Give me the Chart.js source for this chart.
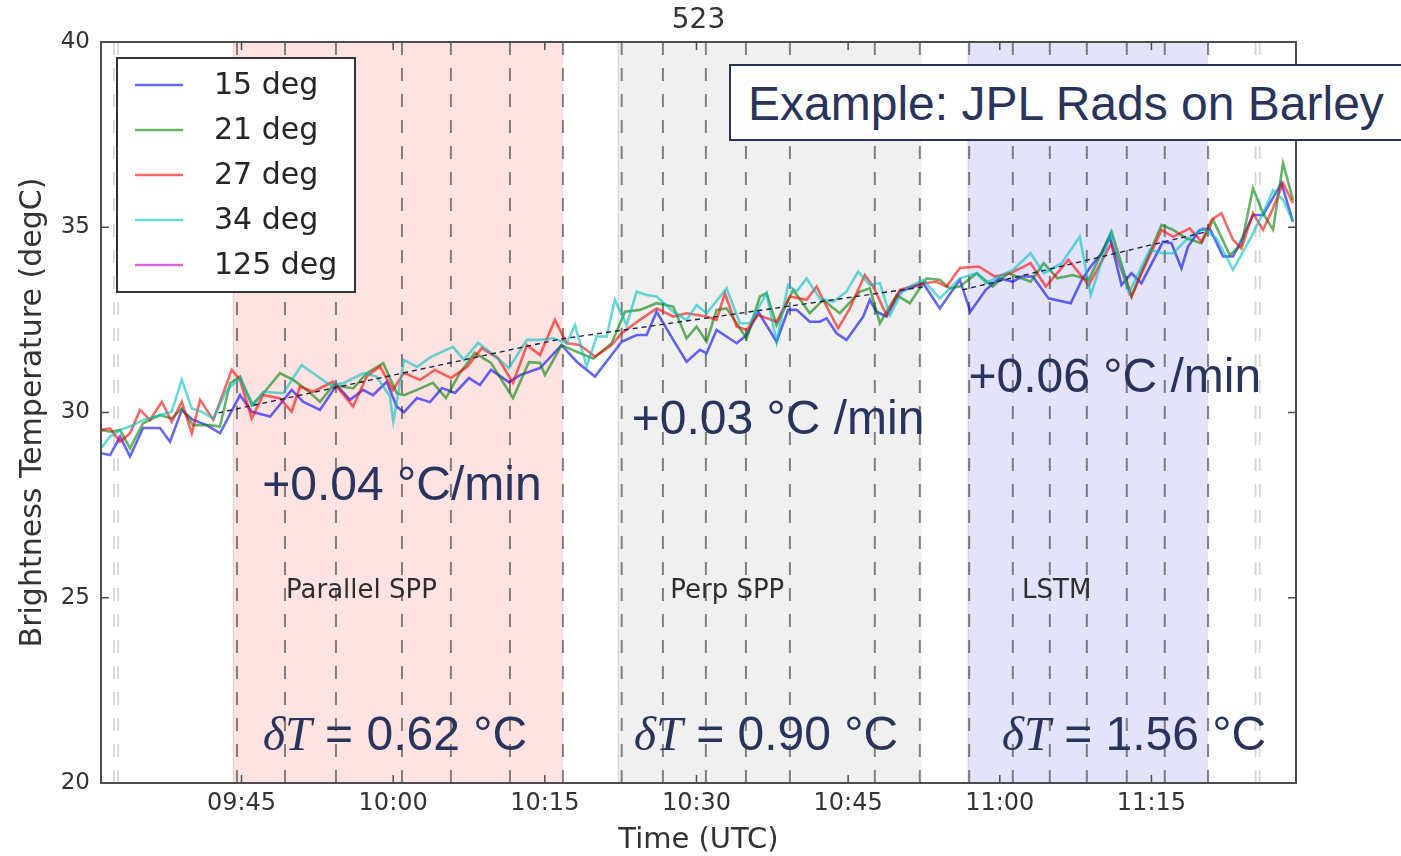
<!DOCTYPE html>
<html>
<head>
<meta charset="utf-8">
<title>523</title>
<style>
  html, body { margin: 0; padding: 0; background: #fff; overflow: hidden; }
  #wrap { position: relative; width: 1401px; height: 856px; overflow: hidden; }
  #chart { position: absolute; left: 0; top: 0; }
  #note {
    position: absolute; left: 729px; top: 64px; width: 700px; height: 77px;
    box-sizing: border-box; border: 2px solid #29345c; background: #fff;
    color: #29345c; font: 48px "Liberation Sans", Arial, sans-serif;
    line-height: 75px; padding-left: 17px; white-space: nowrap;
  }
</style>
</head>
<body>
<div id="wrap">
  <canvas id="chart" width="1401" height="856"></canvas>
  <div id="note">Example: JPL Rads on Barley</div>
</div>
<script src="https://cdn.jsdelivr.net/npm/chart.js"></script>
<script>
// time axis is minutes after 09:00 UTC
const seriesLabels = ['15 deg', '21 deg', '27 deg', '34 deg', '125 deg'];

const t15 = [31.1, 32.0, 32.99, 33.97, 35.26, 36.94, 37.93, 39.09, 40.2, 41.56, 42.87, 44.85, 46.01, 47.83, 49.96, 51.08, 52.76, 54.41, 55.73, 57.01, 58.0, 59.36, 60.35, 61.07, 62.35, 63.64, 64.83, 66.11, 67.5, 68.58, 69.67, 71.45, 72.54, 74.52, 76.66, 78.15, 79.96, 82.6, 84.08, 85.07, 86.06, 87.7, 89.02, 90.34, 91.0, 91.99, 93.97, 94.96, 96.1, 97.92, 99.07, 99.9, 101.21, 102.2, 102.87, 103.85, 104.84, 106.49, 107.15, 107.81, 108.8, 110.11, 112.42, 114.07, 116.05, 117.09, 118.62, 119.95, 121.29, 122.18, 123.27, 124.82, 127.02, 128.11, 129.0, 130.09, 130.88, 132.04, 133.03, 134.01, 136.15, 136.98, 137.97, 138.62, 139.78, 140.77, 142.08, 143.07, 144.06, 145.05, 146.04, 147.86, 149.0];
const v15 = [28.9, 28.85, 29.35, 28.81, 29.58, 29.58, 29.21, 30.07, 29.8, 29.66, 29.44, 30.47, 30.02, 29.89, 30.61, 30.29, 30.07, 30.74, 30.34, 30.61, 30.47, 30.83, 30.16, 30.01, 30.39, 30.28, 30.66, 30.53, 30.93, 30.74, 31.15, 30.82, 31.01, 31.2, 31.82, 31.37, 30.97, 31.91, 32.09, 32.09, 32.72, 31.96, 31.37, 31.69, 31.6, 32.23, 31.87, 32.09, 32.72, 31.91, 32.77, 32.77, 32.45, 32.45, 32.54, 32.14, 31.96, 32.59, 33.04, 32.72, 32.59, 33.26, 33.49, 32.81, 33.58, 32.72, 33.31, 33.62, 33.53, 33.67, 33.67, 33.08, 32.95, 33.58, 33.94, 34.3, 34.74, 33.44, 33.76, 33.49, 34.61, 34.57, 33.89, 34.48, 34.93, 34.97, 34.21, 34.21, 34.74, 35.33, 35.33, 36.19, 35.15];

const t21 = [31.1, 32.0, 32.99, 33.97, 35.26, 36.94, 38.1, 39.09, 40.2, 41.89, 42.87, 43.86, 44.85, 46.01, 47.16, 48.81, 50.12, 51.45, 52.76, 54.08, 56.06, 57.38, 59.02, 60.35, 61.07, 62.35, 63.94, 65.22, 66.6, 68.08, 69.67, 71.85, 73.43, 74.52, 75.01, 76.66, 78.15, 79.79, 81.61, 82.92, 84.4, 86.06, 87.7, 89.02, 90.01, 91.0, 91.99, 92.98, 94.96, 96.27, 96.93, 97.92, 99.56, 101.21, 102.53, 104.18, 106.16, 107.15, 108.14, 109.79, 111.1, 112.75, 114.07, 115.06, 116.05, 117.73, 119.29, 120.84, 123.05, 124.35, 125.7, 127.22, 128.8, 131.05, 133.03, 134.17, 136.0, 137.14, 138.46, 139.95, 141.1, 142.75, 143.9, 145.05, 146.04, 147.03, 148.02, 149.0];
const v21 = [29.53, 29.48, 29.53, 29.03, 29.71, 29.93, 29.84, 30.11, 29.66, 29.66, 29.62, 30.79, 30.97, 30.2, 30.52, 31.06, 30.88, 30.61, 30.29, 30.74, 30.65, 31.06, 31.33, 30.52, 30.47, 30.61, 30.8, 30.39, 31.07, 31.61, 31.34, 30.39, 31.36, 31.34, 31.01, 31.82, 31.64, 31.46, 31.87, 32.72, 32.77, 32.95, 32.86, 32.0, 32.32, 31.91, 32.77, 32.81, 32.0, 33.13, 33.22, 32.36, 33.31, 32.68, 33.04, 32.68, 33.26, 33.35, 32.41, 33.17, 32.95, 33.62, 33.58, 33.35, 33.4, 33.76, 33.4, 33.76, 33.53, 34.03, 33.62, 33.71, 33.58, 34.88, 33.13, 33.89, 35.06, 34.93, 34.7, 34.57, 35.2, 34.25, 34.52, 36.05, 35.38, 34.93, 36.73, 35.74];

const t27 = [31.1, 32.0, 32.99, 33.97, 34.96, 35.95, 37.11, 38.1, 39.09, 40.08, 40.9, 42.21, 44.03, 44.85, 46.01, 47.13, 48.81, 49.96, 50.78, 52.07, 54.05, 56.03, 57.38, 58.7, 59.98, 61.07, 62.65, 64.13, 65.72, 67.3, 68.78, 70.36, 71.85, 73.23, 74.52, 76.0, 77.16, 78.47, 79.96, 81.61, 82.6, 84.4, 86.06, 87.7, 89.02, 91.0, 91.99, 92.81, 93.97, 94.96, 96.1, 97.92, 99.24, 100.89, 101.88, 102.87, 104.01, 105.17, 106.65, 107.47, 108.8, 110.11, 112.42, 113.74, 114.73, 116.05, 117.93, 119.51, 121.06, 123.05, 124.55, 126.8, 128.8, 131.05, 133.03, 134.17, 136.0, 137.14, 138.79, 139.95, 140.94, 141.92, 143.07, 143.9, 145.05, 146.04, 147.03, 148.02, 149.0];
const v27 = [29.53, 29.57, 29.21, 29.44, 30.07, 29.8, 30.29, 29.75, 30.29, 29.44, 30.34, 29.8, 31.15, 30.88, 29.84, 30.47, 30.38, 30.02, 30.7, 30.56, 30.83, 30.16, 30.97, 31.24, 30.61, 31.07, 30.88, 31.15, 30.93, 31.23, 31.74, 31.47, 30.8, 31.82, 31.55, 32.5, 31.87, 31.82, 31.51, 31.82, 32.14, 32.5, 32.81, 32.59, 32.68, 32.59, 32.5, 33.22, 32.32, 32.23, 32.63, 32.45, 33.13, 33.04, 33.4, 32.86, 32.27, 32.81, 33.71, 33.4, 32.63, 33.31, 33.49, 33.53, 33.4, 33.9, 33.94, 33.67, 33.76, 34.03, 33.4, 34.12, 33.44, 34.57, 33.13, 33.85, 34.93, 34.74, 34.97, 34.61, 35.2, 35.38, 34.66, 34.43, 35.38, 34.93, 35.51, 36.19, 35.65];

const t34 = [31.1, 32.0, 32.99, 34.28, 35.26, 36.94, 38.1, 39.09, 40.08, 41.06, 42.21, 43.54, 44.85, 46.17, 47.16, 49.13, 50.95, 52.1, 53.75, 55.07, 57.04, 58.37, 59.68, 60.01, 61.07, 62.35, 63.74, 65.91, 67.0, 68.39, 69.67, 71.45, 73.23, 74.52, 75.83, 77.16, 77.98, 79.13, 80.12, 81.11, 81.93, 83.09, 84.08, 85.07, 86.06, 87.7, 89.02, 90.01, 91.0, 92.98, 94.29, 95.28, 96.93, 97.92, 99.07, 99.9, 100.89, 102.2, 103.52, 104.84, 105.99, 107.15, 108.14, 109.13, 110.44, 112.42, 114.07, 116.05, 117.73, 118.62, 119.95, 121.29, 123.05, 124.35, 126.13, 127.91, 129.0, 130.98, 132.76, 134.84, 136.15, 137.14, 138.46, 140.1, 141.43, 143.07, 144.72, 146.04, 147.03, 148.02, 149.0];
const v34 = [29.03, 29.35, 29.53, 29.66, 29.8, 29.93, 30.02, 30.88, 30.11, 30.02, 29.84, 30.61, 30.92, 30.2, 30.56, 30.52, 31.28, 31.06, 30.74, 30.79, 31.06, 30.97, 30.43, 29.75, 31.42, 31.23, 31.5, 31.77, 31.42, 31.88, 31.61, 31.2, 31.96, 31.96, 32.0, 31.87, 32.36, 31.24, 32.05, 32.05, 33.04, 32.36, 33.26, 33.17, 33.13, 32.72, 32.5, 32.9, 32.68, 33.35, 32.41, 32.41, 33.22, 31.91, 33.44, 33.26, 33.62, 33.08, 32.99, 33.26, 33.8, 33.44, 33.49, 32.63, 33.31, 33.58, 33.08, 33.62, 33.76, 33.49, 33.67, 33.85, 34.3, 33.76, 34.03, 34.74, 33.17, 34.84, 33.22, 34.39, 34.3, 34.3, 34.66, 34.97, 34.7, 33.85, 34.66, 35.38, 36.0, 35.74, 35.15];

const t125 = [];
const v125 = [];

// fitted trend (three pieces, gap between the 2nd and 3rd)
const trendTimes = [42.7, 76.5, 112.4, 114.4, 116.3, 140.3];
const trendValues = [29.99, 31.98, 33.39, null, 33.31, 34.87];

const xTickValues = [45, 60, 75, 90, 105, 120, 135];
const xTickLabels = ['09:45', '10:00', '10:15', '10:30', '10:45', '11:00', '11:15'];
const yTickValues = [20, 25, 30, 35, 40];

const regionNames = ['Parallel SPP', 'Perp SPP', 'LSTM'];
const regionStarts = [44.19, 82.26, 116.87];
const regionEnds = [76.82, 112.26, 140.6];
const rateLabels = ['+0.04 °C/min', '+0.03 °C /min', '+0.06 °C /min'];
const deltaLabels = ['0.62', '0.90', '1.56'];

const markTimes = [44.55, 49.3, 54.34, 60.87, 65.71, 71.55, 76.79, 82.6, 86.68, 90.93, 94.89, 99.24, 107.64, 112.09, 116.97, 121.29, 124.95, 128.61, 132.56, 136.32, 140.6];
const edgeMarks = [32.59, 145.51];

function pts(ts, vs) { return ts.map((t, i) => ({x: t, y: vs[i]})); }

const seriesColors = ['rgba(0,0,255,0.6)', 'rgba(0,128,0,0.6)', 'rgba(255,0,0,0.6)', 'rgba(0,191,191,0.6)', 'rgba(191,0,191,0.6)'];
const seriesData = [pts(t15, v15), pts(t21, v21), pts(t27, v27), pts(t34, v34), pts(t125, v125)];
const regionFill = ['#fde2e2', '#f0f0f0', '#e3e3fa'];
const navy = '#29345c';

// text placements (time, value)
const rateAt = [[47.05, 27.64], [83.6, 29.41], [116.9, 30.54]];
const deltaAt = [[47.1, 20.89], [83.8, 20.89], [120.2, 20.89]];
const nameAt = [[49.4, 25.0], [87.4, 25.0], [122.2, 25.0]];

const overlay = {
  id: 'overlay',
  beforeDatasetsDraw(chart) {
    const {ctx, chartArea: a, scales: {x, y}} = chart;
    ctx.save();
    ctx.beginPath();
    ctx.rect(a.left, a.top, a.right - a.left, a.bottom - a.top);
    ctx.clip();
    regionStarts.forEach((s, i) => {
      const x0 = x.getPixelForValue(s), x1 = x.getPixelForValue(regionEnds[i]);
      ctx.fillStyle = regionFill[i];
      ctx.fillRect(x0, a.top, x1 - x0, a.bottom - a.top);
      ctx.strokeStyle = '#cfcfcf';
      ctx.lineWidth = 1;
      ctx.beginPath();
      ctx.moveTo(x0, a.top); ctx.lineTo(x0, a.bottom);
      ctx.stroke();
    });
    ctx.setLineDash([13, 13]);
    edgeMarks.forEach(t => {
      const px = x.getPixelForValue(t);
      ctx.lineWidth = 6; ctx.strokeStyle = '#d4d4d4';
      ctx.beginPath(); ctx.moveTo(px, a.bottom); ctx.lineTo(px, a.top); ctx.stroke();
      ctx.lineWidth = 2.5; ctx.strokeStyle = '#ffffff';
      ctx.beginPath(); ctx.moveTo(px, a.bottom); ctx.lineTo(px, a.top); ctx.stroke();
    });
    ctx.lineWidth = 2;
    ctx.strokeStyle = 'rgba(60,60,60,0.62)';
    markTimes.forEach(t => {
      const px = x.getPixelForValue(t);
      ctx.beginPath(); ctx.moveTo(px, a.bottom); ctx.lineTo(px, a.top); ctx.stroke();
    });
    ctx.setLineDash([]);
    ctx.fillStyle = '#2e2e2e';
    ctx.font = '26px "DejaVu Sans"';
    ctx.textBaseline = 'alphabetic';
    ctx.textAlign = 'left';
    regionNames.forEach((n, i) => {
      ctx.fillText(n, x.getPixelForValue(nameAt[i][0]), y.getPixelForValue(nameAt[i][1]));
    });
    ctx.restore();
  },
  afterDraw(chart) {
    const {ctx, chartArea: a, scales: {x, y}} = chart;
    ctx.save();
    // frame and inward ticks
    ctx.strokeStyle = '#4d4d4d';
    ctx.lineWidth = 2;
    ctx.strokeRect(a.left, a.top, a.right - a.left, a.bottom - a.top);
    ctx.lineWidth = 1.5;
    ctx.beginPath();
    xTickValues.forEach(v => {
      const px = x.getPixelForValue(v);
      ctx.moveTo(px, a.bottom); ctx.lineTo(px, a.bottom - 8);
      ctx.moveTo(px, a.top); ctx.lineTo(px, a.top + 8);
    });
    yTickValues.forEach(v => {
      const py = y.getPixelForValue(v);
      ctx.moveTo(a.left, py); ctx.lineTo(a.left + 8, py);
      ctx.moveTo(a.right, py); ctx.lineTo(a.right - 8, py);
    });
    ctx.stroke();

    // title
    ctx.fillStyle = '#333';
    ctx.font = '28px "DejaVu Sans"';
    ctx.textAlign = 'center';
    ctx.textBaseline = 'middle';
    ctx.fillText('523', (a.left + a.right) / 2, 21);

    // legend
    const lx = a.left + 16, ly = a.top + 16;
    ctx.fillStyle = '#fff';
    ctx.fillRect(lx, ly, 238, 234);
    ctx.strokeStyle = '#333';
    ctx.lineWidth = 2;
    ctx.strokeRect(lx, ly, 238, 234);
    ctx.font = '30px "DejaVu Sans"';
    ctx.textAlign = 'left';
    ctx.textBaseline = 'middle';
    seriesLabels.forEach((lab, i) => {
      const cy = ly + 27 + i * 45;
      ctx.strokeStyle = seriesColors[i];
      ctx.lineWidth = 2.6;
      ctx.beginPath(); ctx.moveTo(lx + 18, cy); ctx.lineTo(lx + 66, cy); ctx.stroke();
      ctx.fillStyle = '#262626';
      ctx.fillText(lab, lx + 97, cy + 1);
    });

    // annotations
    ctx.fillStyle = navy;
    ctx.textBaseline = 'alphabetic';
    ctx.font = '48px "Liberation Sans"';
    rateLabels.forEach((s, i) => {
      ctx.fillText(s, x.getPixelForValue(rateAt[i][0]), y.getPixelForValue(rateAt[i][1]));
    });
    deltaLabels.forEach((d, i) => {
      let px = x.getPixelForValue(deltaAt[i][0]);
      const py = y.getPixelForValue(deltaAt[i][1]);
      ctx.font = 'italic 48px "Liberation Serif"';
      ctx.fillText('δT', px, py);
      px += ctx.measureText('δT').width;
      ctx.font = '48px "Liberation Sans"';
      ctx.fillText(' = ' + d + ' °C', px, py);
    });
    ctx.restore();
  }
};

const datasets = seriesLabels.map((lab, i) => ({
  label: lab,
  data: seriesData[i],
  borderColor: seriesColors[i],
  borderWidth: 2.6,
  pointRadius: 0,
  tension: 0,
  fill: false,
  order: 6 - i
}));
datasets.push({
  label: 'trend',
  data: pts(trendTimes, trendValues),
  borderColor: '#1c2444',
  borderWidth: 1.4,
  borderDash: [5, 4],
  pointRadius: 0,
  spanGaps: false,
  fill: false,
  order: 0
});

new Chart(document.getElementById('chart'), {
  type: 'line',
  data: {datasets: datasets},
  options: {
    responsive: false,
    animation: false,
    devicePixelRatio: 1,
    layout: {padding: {left: 0, right: 105, top: 42, bottom: 0}},
    plugins: {legend: {display: false}, tooltip: {enabled: false}, title: {display: false}},
    scales: {
      x: {
        type: 'linear',
        min: 31.1,
        max: 149.3,
        afterFit: s => { s.height = 73; },
        afterBuildTicks: s => { s.ticks = xTickValues.map(v => ({value: v})); },
        grid: {display: false, drawTicks: false},
        border: {display: false},
        ticks: {
          autoSkip: false, maxRotation: 0, padding: 6,
          color: '#333', font: {family: 'DejaVu Sans', size: 24},
          callback: v => { const k = xTickValues.indexOf(v); return k >= 0 ? xTickLabels[k] : ''; }
        },
        title: {display: true, text: 'Time (UTC)', color: '#333', font: {family: 'DejaVu Sans', size: 29, lineHeight: 1.1}, padding: {top: 0, bottom: 0}}
      },
      y: {
        min: 20,
        max: 40,
        afterFit: s => { s.width = 101; },
        afterBuildTicks: s => { s.ticks = yTickValues.map(v => ({value: v})); },
        grid: {display: false, drawTicks: false},
        border: {display: false},
        ticks: {padding: 11, color: '#333', font: {family: 'DejaVu Sans', size: 23}},
        title: {display: true, text: 'Brightness Temperature (degC)', color: '#333', font: {family: 'DejaVu Sans', size: 30}, padding: {top: 15, bottom: 0}}
      }
    }
  },
  plugins: [overlay]
});
</script>
</body>
</html>
